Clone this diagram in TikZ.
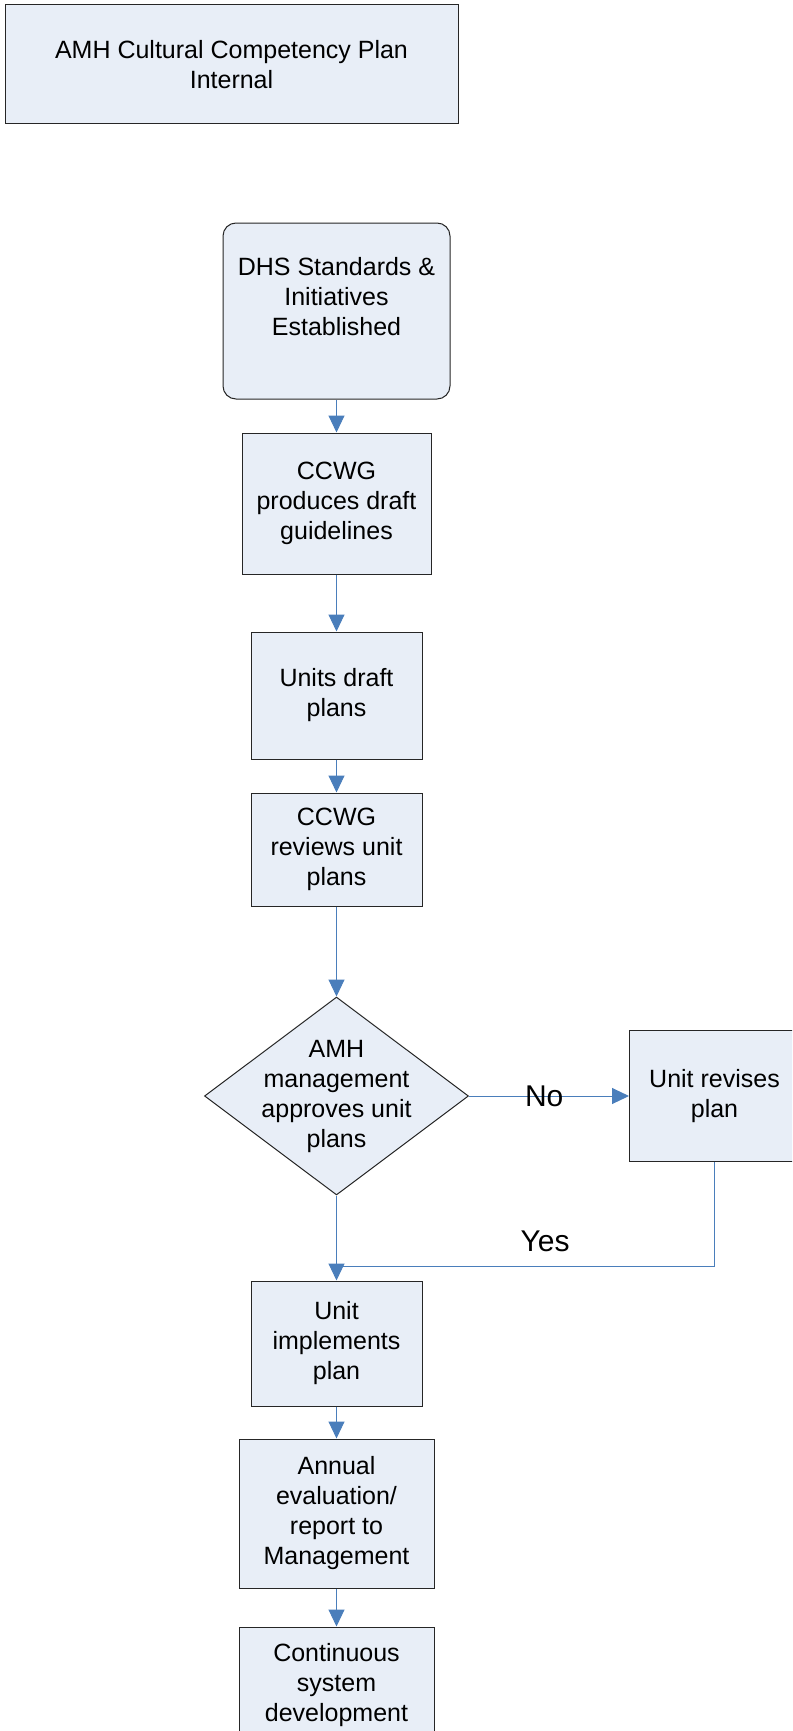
\documentclass[tikz,border=0pt]{standalone}
\usepackage{fontspec}
\setmainfont{Liberation Sans}
\usepackage{xcolor}
\definecolor{colorFill}{HTML}{E8EEF7}
\definecolor{colorTransition}{HTML}{4A7EBB}
\definecolor{colorBorder}{HTML}{262626}
\usepackage{tikz}
\usetikzlibrary{arrows.meta, positioning, shapes.geometric}
\tikzset{
  stepbox/.style={draw=colorBorder, fill=colorFill, line width=1pt, inner sep=0pt, align=center, font=\fontsize{25}{30}\selectfont},
  boxtext/.style={inner sep=0pt, align=center, font=\fontsize{25}{30}\selectfont},
  decision/.style={stepbox, diamond},
  flow/.style={colorTransition, line width=1pt},
  lbl/.style={inner sep=0pt, font=\fontsize{30}{34}\selectfont}
}

\begin{document}
\begin{tikzpicture}[x=1pt, y=-1pt, >={Triangle[length=17pt,width=16pt]}]
\useasboundingbox (0,0) rectangle (792,1731);
\clip (0,0) rectangle (792,1731);
\node[stepbox, minimum width=453pt, minimum height=119pt] (plan) at (231.5,64.5) {AMH Cultural Competency Plan\\Internal};
\node[stepbox, rounded corners=13pt, minimum width=227pt, minimum height=176pt] (dhs) at (336.5,311) {};
\node[boxtext, below=35pt of dhs.north] (dhstext) {DHS Standards \&\\Initiatives\\Established};
\node[stepbox, minimum width=189pt, minimum height=141pt, below=33pt of dhs] (draft) {CCWG\\produces draft\\guidelines};
\node[stepbox, minimum width=171pt, minimum height=127pt, below=57pt of draft] (units) {Units draft\\plans};
\node[stepbox, minimum width=171pt, minimum height=113pt, below=33pt of units] (reviews) {CCWG\\reviews unit\\plans};
\node[decision, minimum width=264pt, minimum height=198pt, below=90pt of reviews] (appr) {};
\node[boxtext] (apprtext) at (appr) {AMH\\management\\approves unit\\plans};
\node[stepbox, minimum width=170pt, minimum height=131pt, right=160pt of appr] (revises) {Unit revises\\plan};
\node[stepbox, minimum width=171pt, minimum height=125pt, below=85pt of appr] (impl) {Unit\\implements\\plan};
\node[stepbox, minimum width=195pt, minimum height=149pt, below=32pt of impl] (annual) {Annual\\evaluation/\\report to\\Management};
\node[stepbox, minimum width=195pt, minimum height=116pt, below=38pt of annual] (cont) {Continuous\\system\\development};
\coordinate[above=14pt of impl.north] (join);
\draw[->, flow] (dhs.south) -- (draft.north);
\draw[->, flow] (draft.south) -- (units.north);
\draw[->, flow] (units.south) -- (reviews.north);
\draw[->, flow] (reviews.south) -- (appr.north);
\draw[->, flow] (appr.east) -- node[lbl, pos=0.47, text=black] (no) {No} (revises.west);
\draw[flow] (revises.south) |- node[lbl, pos=0.724, above=14pt, text=black] (yes) {Yes} (join);
\draw[->, flow] (appr.south) -- (impl.north);
\draw[->, flow] (impl.south) -- (annual.north);
\draw[->, flow] (annual.south) -- (cont.north);
\end{tikzpicture}
\end{document}
